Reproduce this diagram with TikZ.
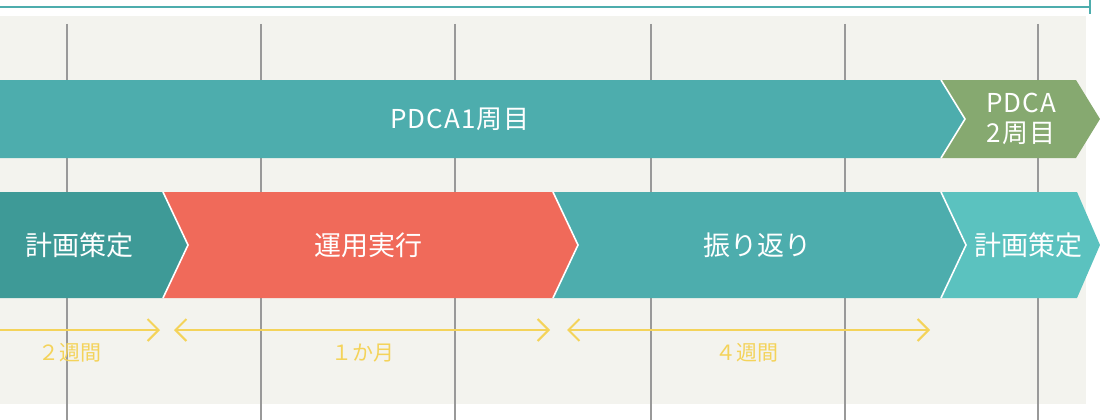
\documentclass[tikz,border=0pt]{standalone}
\usepackage{fontspec}
\setmainfont{Noto Sans CJK JP}
\usetikzlibrary{arrows.meta}
\definecolor{bgray}{HTML}{F3F3EE}
\definecolor{gridgray}{HTML}{999999}
\definecolor{tealA}{HTML}{4DADAD}
\definecolor{tealD}{HTML}{3E9A97}
\definecolor{tealL}{HTML}{5BC2BF}
\definecolor{coral}{HTML}{F06A5A}
\definecolor{olive}{HTML}{86A970}
\definecolor{span}{HTML}{F4D35A}

\begin{document}
\begin{tikzpicture}[x=1pt, y=-1pt,
    >={Straight Barb[length=11pt,width=22pt,line width=2pt]},
    phase/.style={text=white, font=\fontsize{27}{31}\selectfont},
    sep/.style={white, line width=1.6pt},
    dur/.style={span, line width=2pt},
    durlabel/.style={text=span, font=\fontsize{21}{25}\selectfont}]
    \useasboundingbox (0,0) rectangle (1100,420);
    % top bracket
    \draw[tealA, line width=2pt] (0,7) -- (1090,7);
    \draw[tealA, line width=2pt] (1090,0) -- (1090,14);
    % background and week grid
    \fill[bgray] (0,16) rectangle (1086,404);
    \foreach \x in {67,261,455,651,845,1038}
        \draw[gridgray, line width=1.5pt] (\x,24) -- (\x,420);
    % cycle band
    \fill[tealA] (0,80) -- (941,80) -- (965,119) -- (941,158) -- (0,158) -- cycle;
    \fill[olive] (941,80) -- (1076,80) -- (1100,119) -- (1076,158) -- (941,158) -- (965,119) -- cycle;
    \draw[sep] (941,80) -- (965,119) -- (941,158);
    \node[phase, font=\fontsize{26}{30}\selectfont\addfontfeature{LetterSpace=4}] (pdca1) at (460,119) {PDCA1周目};
    \node[phase, align=center, font=\fontsize{26}{30}\selectfont\addfontfeature{LetterSpace=4}] (pdca2) at (1021,119) {PDCA\\2周目};
    % phase band
    \fill[tealD] (0,192) -- (163,192) -- (188,245) -- (163,298) -- (0,298) -- cycle;
    \fill[coral] (163,192) -- (553,192) -- (578,245) -- (553,298) -- (163,298) -- (188,245) -- cycle;
    \fill[tealA] (553,192) -- (941,192) -- (966,245) -- (941,298) -- (553,298) -- (578,245) -- cycle;
    \fill[tealL] (941,192) -- (1077,192) -- (1100,245) -- (1077,298) -- (941,298) -- (966,245) -- cycle;
    \foreach \x in {163,553,941}
        \draw[sep] (\x,192) -- (\x+25,245) -- (\x,298);
    \node[phase] (plan) at (79,245) {計画策定};
    \node[phase] (run) at (368,245) {運用実行};
    \node[phase] (review) at (757,245) {振り返り};
    \node[phase] (plan2) at (1028,245) {計画策定};
    % durations
    \coordinate (d0) at (0,330);
    \coordinate (d1) at (160,330);
    \coordinate (d2) at (174,330);
    \coordinate (d3) at (550,330);
    \coordinate (d4) at (567,330);
    \coordinate (d5) at (930,330);
    \draw[dur, ->] (d0) -- (d1);
    \draw[dur, <->] (d2) -- (d3);
    \draw[dur, <->] (d4) -- (d5);
    \node[durlabel] (w2) at (70,353) {２週間};
    \node[durlabel] (m1) at (363,353) {１か月};
    \node[durlabel] (w4) at (747,353) {４週間};
\end{tikzpicture}
\end{document}
